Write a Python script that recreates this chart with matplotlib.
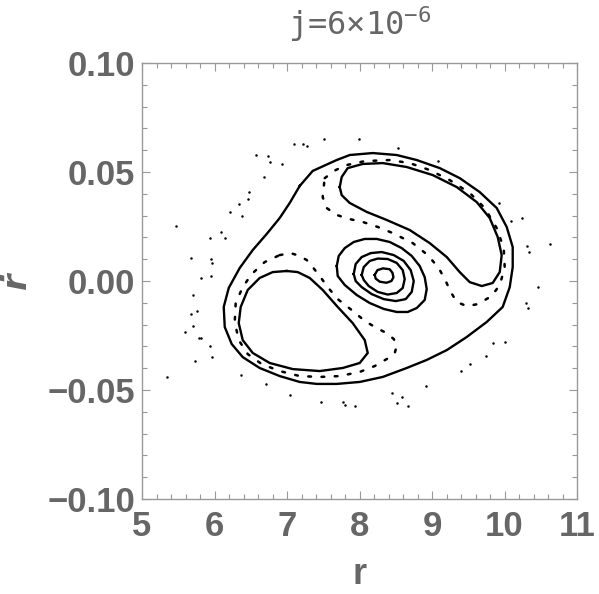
import numpy as np
import matplotlib.pyplot as plt
from matplotlib.ticker import MultipleLocator

plt.rcParams['mathtext.fontset'] = 'custom'
plt.rcParams['mathtext.rm'] = 'DejaVu Sans Mono'
plt.rcParams['mathtext.default'] = 'rm'

# outer invariant curve
outer_r = [7.175, 7.354, 7.685, 7.865, 8.182, 8.513, 8.789, 9.106, 9.382,
           9.658, 9.892, 10.030, 10.113, 10.113, 10.072, 9.975, 9.754, 9.478, 9.203,
           8.927, 8.651, 8.320, 8.003, 7.686, 7.410, 7.175, 6.899, 6.623, 6.389,
           6.237, 6.141, 6.127, 6.196, 6.348, 6.527, 6.720, 6.899, 7.037]
outer_v = [0.0436, 0.0505, 0.0555, 0.0578, 0.0587, 0.0578, 0.0555, 0.0518, 0.0472,
           0.0408, 0.0335, 0.0248, 0.0156, 0.0064, -0.0028, -0.0119, -0.0188, -0.0257, -0.0317,
           -0.0362, -0.0399, -0.0440, -0.0463, -0.0472, -0.0472, -0.0463, -0.0436, -0.0399, -0.0349,
           -0.0289, -0.0211, -0.0119, -0.0032, 0.0060, 0.0142, 0.0216, 0.0289, 0.0358]

# upper right island
isl1_r = [7.727, 7.754, 7.837, 8.044, 8.320, 8.651, 9.010, 9.341, 9.617, 9.796,
          9.906, 9.961, 9.934, 9.837, 9.686, 9.520, 9.382, 9.203, 8.968, 8.692,
          8.375, 8.099, 7.865, 7.754]
isl1_v = [0.0431, 0.0477, 0.0518, 0.0537, 0.0541, 0.0523, 0.0486, 0.0431, 0.0362, 0.0289,
          0.0202, 0.0119, 0.0041, -0.0009, -0.0023, -0.0005, 0.0041, 0.0110, 0.0174, 0.0234,
          0.0280, 0.0317, 0.0358, 0.0394]

# lower left island
isl2_r = [6.996, 6.803, 6.623, 6.458, 6.361, 6.334, 6.389, 6.527, 6.761, 7.079,
          7.451, 7.768, 8.003, 8.113, 8.072, 7.906, 7.699, 7.492, 7.313, 7.148]
isl2_v = [0.0046, 0.0041, 0.0014, -0.0041, -0.0119, -0.0193, -0.0271, -0.0330, -0.0376, -0.0404,
          -0.0413, -0.0399, -0.0376, -0.0330, -0.0271, -0.0193, -0.0119, -0.0041, 0.0014, 0.0041]

# central nested curves, outermost first
c1_r = [7.686, 7.713, 7.796, 7.920, 8.072, 8.237, 8.417, 8.582, 8.720, 8.830, 8.899,
        8.927, 8.899, 8.789, 8.665, 8.513, 8.334, 8.141, 7.961, 7.796, 7.699]
c1_v = [0.0069, 0.0115, 0.0151, 0.0179, 0.0193, 0.0193, 0.0179, 0.0151, 0.0115, 0.0069, 0.0018,
        -0.0037, -0.0087, -0.0124, -0.0142, -0.0142, -0.0128, -0.0101, -0.0064, -0.0018, 0.0023]
c2_r = [7.920, 7.947, 8.030, 8.155, 8.306, 8.472, 8.610, 8.706, 8.748, 8.720, 8.637,
        8.499, 8.334, 8.168, 8.030, 7.947]
c2_v = [0.0032, 0.0078, 0.0110, 0.0128, 0.0133, 0.0119, 0.0092, 0.0050, 0.0000, -0.0050, -0.0083,
        -0.0092, -0.0083, -0.0060, -0.0028, 0.0000]
c3_r = [8.030, 8.058, 8.141, 8.251, 8.389, 8.513, 8.596, 8.623, 8.596, 8.513, 8.389,
        8.251, 8.127, 8.058]
c3_v = [0.0028, 0.0064, 0.0092, 0.0103, 0.0101, 0.0083, 0.0050, 0.0009, -0.0032, -0.0055, -0.0062,
        -0.0050, -0.0023, 0.0005]
c4_r = [8.210, 8.247, 8.324, 8.416, 8.454, 8.468, 8.440, 8.371, 8.279, 8.223]
c4_v = [0.0028, 0.0050, 0.0058, 0.0054, 0.0038, 0.0017, 0.0000, -0.0008, -0.0003, 0.0011]

# separatrix layer around the islands
sep1_r = [7.520, 7.671, 7.823, 8.072, 8.417, 8.692, 8.968, 9.244, 9.520, 9.727,
          9.892, 9.989, 10.003, 9.934, 9.823, 9.630, 9.478, 9.341, 9.258, 9.189,
          9.092, 8.941, 8.734, 8.458, 8.251, 8.044, 7.865, 7.685, 7.547, 7.492, 7.506]
sep1_v = [0.0472, 0.0509, 0.0532, 0.0550, 0.0555, 0.0541, 0.0509, 0.0463, 0.0404, 0.0335,
          0.0243, 0.0151, 0.0060, -0.0018, -0.0069, -0.0106, -0.0115, -0.0096, -0.0050, 0.0000,
          0.0060, 0.0119, 0.0174, 0.0220, 0.0248, 0.0271, 0.0284, 0.0303, 0.0335, 0.0385, 0.0431]
sep2_r = [6.899, 7.051, 7.175, 7.272, 7.354, 7.451, 7.561, 7.699, 7.892, 8.072,
          8.237, 8.375, 8.472, 8.513, 8.486, 8.375, 8.210, 8.003, 7.727, 7.451,
          7.175, 6.899, 6.651, 6.458, 6.334, 6.279, 6.292, 6.389, 6.513, 6.692]
sep2_v = [0.0119, 0.0128, 0.0115, 0.0096, 0.0064, 0.0023, -0.0028, -0.0083, -0.0133, -0.0183,
          -0.0216, -0.0239, -0.0266, -0.0298, -0.0330, -0.0358, -0.0390, -0.0417, -0.0436, -0.0440,
          -0.0436, -0.0413, -0.0381, -0.0335, -0.0271, -0.0188, -0.0101, -0.0028, 0.0032, 0.0087]

# chaotic points outside
sea_r = [7.092, 6.568, 6.734, 6.761, 6.927, 6.679, 6.472, 6.458, 6.334, 6.375,
         6.210, 6.086, 6.141, 5.934, 5.465, 5.672, 5.948, 5.961, 5.810, 5.948,
         5.699, 7.217, 7.272, 7.506, 7.989, 8.527, 9.079, 9.920, 10.086, 10.237,
         10.306, 10.334, 10.624, 10.458, 5.672, 5.754, 5.699, 5.589, 5.782, 5.810,
         5.934, 5.961, 5.727, 5.341, 6.361, 6.706, 7.037, 10.292, 10.320, 9.837,
         10.003, 9.741, 9.520, 9.396, 8.913, 8.444, 8.582, 8.513, 8.665, 7.465,
         7.768, 7.796, 7.934]
sea_v = [0.0628, 0.0578, 0.0573, 0.0546, 0.0537, 0.0477, 0.0408, 0.0376, 0.0353, 0.0298,
         0.0317, 0.0225, 0.0197, 0.0197, 0.0252, 0.0106, 0.0101, 0.0083, 0.0014, 0.0023,
         -0.0064, 0.0628, 0.0619, 0.0651, 0.0651, 0.0610, 0.0550, 0.0358, 0.0275, 0.0289,
         0.0161, 0.0133, 0.0170, -0.0028, -0.0151, -0.0138, -0.0206, -0.0234, -0.0261, -0.0261,
         -0.0298, -0.0349, -0.0367, -0.0440, -0.0431, -0.0472, -0.0523, -0.0101, -0.0124, -0.0284,
         -0.0280, -0.0344, -0.0381, -0.0413, -0.0482, -0.0514, -0.0532, -0.0560, -0.0573, -0.0555,
         -0.0555, -0.0569, -0.0573]

fig = plt.figure(figsize=(5.99, 5.94), dpi=100)
ax = fig.add_axes([0.2371, 0.1599, 0.7262, 0.7340])

solid = [(outer_r, outer_v), (isl1_r, isl1_v), (isl2_r, isl2_v),
         (c1_r, c1_v), (c2_r, c2_v), (c3_r, c3_v), (c4_r, c4_v)]
for r, v in solid:
    ax.plot(r + r[:1], v + v[:1], color='black', lw=1.7, solid_joinstyle='round')

for r, v in [(sep1_r, sep1_v), (sep2_r, sep2_v)]:
    ax.plot(r + r[:1], v + v[:1], color='black', lw=1.8, ls=(0, (1.1, 4.2)),
            dash_capstyle='round')

ax.plot(sea_r, sea_v, 'o', color='black', ms=1.8, mew=0)

ax.set_xlim(5, 11)
ax.set_ylim(-0.10, 0.10)
ax.set_xticks([5, 6, 7, 8, 9, 10, 11])
ax.set_yticks([-0.10, -0.05, 0.00, 0.05, 0.10])
ax.set_yticklabels(['\u22120.10', '\u22120.05', '0.00', '0.05', '0.10'])
ax.xaxis.set_minor_locator(MultipleLocator(0.2))
ax.yaxis.set_minor_locator(MultipleLocator(0.01))

gray = '#999999'
txt = '#666666'
for s in ax.spines.values():
    s.set_color(gray)
    s.set_linewidth(1.0)
ax.tick_params(which='both', direction='in', top=True, right=True, color=gray, width=0.8)
ax.tick_params(which='major', length=6)
ax.tick_params(which='minor', length=3.5)
ax.tick_params(axis='x', which='major', pad=8)
ax.tick_params(axis='y', which='major', pad=5)
for lab in ax.get_xticklabels() + ax.get_yticklabels():
    lab.set_fontfamily('Liberation Sans')
    lab.set_fontweight('bold')
    lab.set_fontsize(25)
    lab.set_color(txt)

ax.set_xlabel('r', fontfamily='Liberation Sans', fontweight='bold', fontsize=26,
              color=txt, labelpad=10)
ax.set_ylabel('\u1e59', fontfamily='DejaVu Sans', fontweight='bold', fontstyle='italic',
              fontsize=24, color=txt, labelpad=10)
ax.set_title('j=6\u00d710$^{-6}$', fontfamily='DejaVu Sans Mono', fontsize=23,
             color=txt, pad=20)

fig.savefig('out.png', dpi=100)
